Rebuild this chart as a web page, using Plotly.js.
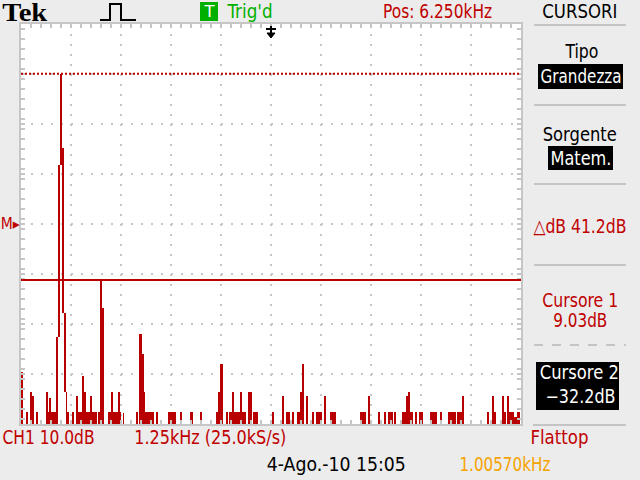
<!DOCTYPE html>
<html><head><meta charset="utf-8">
<script src="https://cdn.plot.ly/plotly-3.0.1.min.js"></script>
<style>html,body{margin:0;padding:0;background:#ececec;}#chart{width:640px;height:480px;}</style>
</head><body><div id="chart"></div>
<script>
// ---- FFT spectrum (Tek scope, Math FFT, 10 dB/div, 1.25 kHz/div) ----
// each entry: frequency span (kHz) of a drawn column, its top (dB) and its bottom (dB, null = below screen)
const binLoKHz = [0.000,0.125,0.225,0.275,0.375,0.625,0.625,0.700,0.875,0.925,0.975,1.025,1.075,1.125,1.150,1.275,1.375,1.375,1.525,1.575,1.725,1.925,1.975,2.025,2.175,2.250,2.425,2.550,2.875,2.950,3.025,3.075,3.050,3.375,3.675,3.975,4.225,4.475,4.875,4.925,4.975,5.125,5.200,5.275,5.475,5.675,5.800,6.275,6.525,6.625,6.775,6.900,6.975,7.025,7.125,7.275,7.375,7.575,7.725,8.475,8.675,8.925,9.075,9.175,9.325,9.525,9.625,9.675,9.725,9.850,9.950,10.225,10.475,10.675,10.900,11.025,11.650,11.775,11.825,12.025,12.075,12.150,12.200,12.325,12.400];
const binHiKHz = [0.050,0.175,0.275,0.325,0.425,0.675,0.875,0.750,0.925,0.9625,1.025,1.075,1.125,1.150,1.200,1.325,1.425,1.900,1.575,1.625,1.775,1.975,2.025,2.075,2.500,2.300,2.475,2.575,2.925,3.025,3.075,3.100,3.325,3.425,3.875,4.025,4.300,4.525,5.050,4.975,5.050,5.175,5.625,5.325,5.525,5.775,5.925,6.325,6.575,6.725,6.825,6.975,7.025,7.075,7.175,7.325,7.525,7.625,7.875,8.625,8.725,8.975,9.125,9.300,9.375,9.650,9.675,9.725,9.800,9.900,10.050,10.400,10.525,10.875,11.025,11.075,11.700,11.825,11.875,12.075,12.125,12.200,12.325,12.400,12.475];
const binTopDb = [-50.6,-58.6,-54.6,-55.4,-58.6,-54.6,-58.6,-55.8,-43.6,-9.2,9.0,-5.8,-38.8,-54.6,-58.6,-58.6,-55.4,-58.6,-51.4,-54.6,-55.4,-58.6,-32.2,-37.8,-58.6,-54.6,-54.6,-58.8,-58.6,-43.0,-47.0,-54.6,-58.6,-58.6,-58.6,-58.6,-58.6,-58.6,-58.6,-54.6,-49.0,-58.6,-58.6,-54.6,-54.6,-54.6,-58.6,-58.6,-55.4,-58.6,-58.6,-58.6,-54.6,-49.0,-55.4,-58.6,-58.6,-55.4,-58.6,-58.6,-55.4,-58.6,-58.6,-58.6,-58.6,-58.6,-55.4,-54.6,-58.6,-58.6,-58.6,-58.6,-58.6,-58.6,-58.6,-55.4,-58.6,-55.4,-58.6,-55.4,-58.6,-55.4,-58.6,-59.6,-58.6];
const binBottomDb = [null,null,null,null,null,null,null,null,null,-43.6,-9.2,-38.8,-54.6,null,null,null,null,null,null,null,null,null,null,null,null,null,null,null,null,null,null,null,null,null,null,null,null,null,null,null,null,null,null,null,null,null,null,null,null,null,null,null,null,null,null,null,null,null,null,null,null,null,null,null,null,null,null,null,null,null,null,null,null,null,null,null,null,null,null,null,null,null,null,null,null];

// cursors (dB)
const cursorDb = [9.03, -32.2];

// axis settings
const spanKHz = [0, 12.5];     // 10 div x 1.25 kHz, Pos 6.250 kHz at centre
const dbRange = [-61, 19];     // 8 div x 10 dB
const kHzPerDiv = 1.25, dbPerDiv = 10;

const RED = '#b80000', TXTRED = '#c00000', GRAT = '#c6c6c6', GREEN = '#00b000', ORANGE = '#f5a300';
const FONT = 'Liberation Sans Narrow, DejaVu Sans Condensed, DejaVu Sans, sans-serif';

// pixel -> paper helpers for the screen furniture around the graticule (plot area x 21..521, y 24..424)
const PX = x => (x - 21) / 500;
const PY = y => (424 - y) / 400;

const floorDb = dbRange[0];
const bottoms = binBottomDb.map(b => b === null ? floorDb : b);
const trace = {
  type: 'bar',
  x: binLoKHz.map((lo, i) => (lo + binHiKHz[i]) / 2),
  width: binLoKHz.map((lo, i) => binHiKHz[i] - lo),
  base: bottoms,
  y: binTopDb.map((t, i) => t - bottoms[i]),
  marker: {color: RED, line: {width: 0}},
  hoverinfo: 'skip'
};

const commonAx = {showticklabels: false, zeroline: false, fixedrange: true};
const layout = {
  width: 640, height: 480,
  margin: {l: 21, r: 119, t: 24, b: 56, pad: 0},
  paper_bgcolor: '#ececec', plot_bgcolor: '#ffffff',
  showlegend: false, bargap: 0,
  font: {family: FONT, size: 20, color: '#000'},
  xaxis: Object.assign({}, commonAx, {
    range: spanKHz, tick0: 0, dtick: kHzPerDiv,
    showgrid: true, gridcolor: GRAT, gridwidth: 2, griddash: '2px,8px',
    showline: true, linecolor: GRAT, linewidth: 2, mirror: 'allticks',
    ticks: 'inside', ticklen: 4, tickwidth: 2, tickcolor: GRAT,
    minor: {dtick: kHzPerDiv / 5, ticks: 'inside', ticklen: 4, tickwidth: 2, tickcolor: GRAT, showgrid: false}
  }),
  yaxis: Object.assign({}, commonAx, {
    range: dbRange, tick0: dbRange[0], dtick: dbPerDiv,
    showgrid: true, gridcolor: GRAT, gridwidth: 2, griddash: '2px,8px',
    showline: true, linecolor: GRAT, linewidth: 2, mirror: 'allticks',
    ticks: 'inside', ticklen: 4, tickwidth: 2, tickcolor: GRAT,
    minor: {dtick: dbPerDiv / 5, ticks: 'inside', ticklen: 4, tickwidth: 2, tickcolor: GRAT, showgrid: false}
  }),
  // centre cross tick marks
  xaxis2: Object.assign({}, commonAx, {
    overlaying: 'x', anchor: 'free', position: 0.5, range: spanKHz, tick0: 0, dtick: kHzPerDiv / 5,
    showgrid: false, showline: false, ticks: 'outside', ticklen: 3, tickwidth: 2, tickcolor: GRAT,
    minor: {dtick: kHzPerDiv / 5, ticks: 'inside', ticklen: 3, tickwidth: 2, tickcolor: GRAT, showgrid: false}
  }),
  yaxis2: Object.assign({}, commonAx, {
    overlaying: 'y', anchor: 'free', position: 0.5, range: dbRange, tick0: dbRange[0], dtick: dbPerDiv / 5,
    showgrid: false, showline: false, ticks: 'outside', ticklen: 3, tickwidth: 2, tickcolor: GRAT,
    minor: {dtick: dbPerDiv / 5, ticks: 'inside', ticklen: 3, tickwidth: 2, tickcolor: GRAT, showgrid: false}
  }),
  shapes: [],
  annotations: []
};

// cursor lines
layout.shapes.push({type: 'line', xref: 'paper', yref: 'y', x0: 0, x1: 1, y0: cursorDb[0], y1: cursorDb[0],
  line: {color: RED, width: 2, dash: '2px,2px'}, layer: 'above'});
layout.shapes.push({type: 'line', xref: 'paper', yref: 'y', x0: 0, x1: 1, y0: cursorDb[1], y1: cursorDb[1],
  line: {color: RED, width: 2}, layer: 'above'});

// screen furniture
function rect(x0, y0, x1, y1, fill) {
  layout.shapes.push({type: 'rect', xref: 'paper', yref: 'paper', x0: PX(x0), x1: PX(x1), y0: PY(y0), y1: PY(y1),
    fillcolor: fill, line: {width: 0}, layer: 'above'});
}
function hline(x0, x1, y, dash) {
  layout.shapes.push({type: 'line', xref: 'paper', yref: 'paper', x0: PX(x0), x1: PX(x1), y0: PY(y), y1: PY(y),
    line: {color: '#c4c4c4', width: 2, dash: dash || 'solid'}});
}
function path(pts, color, width, fill) {
  const d = pts.map((p, i) => (i ? 'L' : 'M') + PX(p[0]) + ',' + PY(p[1])).join(' ') + (fill ? ' Z' : '');
  layout.shapes.push({type: 'path', xref: 'paper', yref: 'paper', path: d,
    line: {color: color, width: width}, fillcolor: fill || 'rgba(0,0,0,0)', layer: 'above'});
}
// text spanning pixel columns left..right (the scope font is narrow: glyphs are fitted to that span)
const fitWidths = [];
function txt(text, left, right, y, opts) {
  opts = opts || {};
  layout.annotations.push({text: text, xref: 'paper', yref: 'paper', x: PX((left + right) / 2), y: PY(y),
    xanchor: 'center', yanchor: 'middle', align: 'center', showarrow: false,
    font: {family: opts.family || FONT, size: opts.size || 20, color: opts.color || '#000'}});
  fitWidths.push(right - left);
}

// top bar
txt('<b>Tek</b>', 2, 47, 13, {family: 'Liberation Serif, Times New Roman, serif', size: 25});
path([[100,20],[110,20],[110,4],[121,4],[121,20],[136,20]], '#000', 2);
rect(200, 2, 218, 21, GREEN);
txt('T', 204, 214, 12, {color: '#fff', size: 16});
txt("Trig'd", 227, 272, 11, {color: GREEN});
txt('Pos: 6.250kHz', 383, 492, 11, {color: TXTRED});
txt('CURSORI', 542, 617, 11);
// trigger position marker
path([[271,26],[271,34]], '#000', 2);
path([[266,29],[276,29]], '#000', 2);
path([[267,33],[275,33],[271,38]], '#000', 1, '#000');

// right menu
hline(534, 626, 25);
txt('Tipo', 565, 598, 51);
rect(538, 64, 623, 89, '#000');
txt('Grandezza', 540, 621, 76, {color: '#fff'});
hline(534, 626, 105);
txt('Sorgente', 543, 617, 134);
rect(548, 146, 613, 170, '#000');
txt('Matem.', 550, 611, 158, {color: '#fff'});
hline(534, 626, 184);
txt('△dB 41.2dB', 533, 626, 226, {color: TXTRED, size: 19});
hline(534, 626, 265);
txt('Cursore 1', 542, 618, 300, {color: TXTRED, size: 19});
txt('9.03dB', 553, 607, 320, {color: TXTRED, size: 19});
hline(534, 626, 345, '9px,9px');
rect(536, 362, 619, 410, '#000');
txt('Cursore 2', 540, 619, 372, {color: '#fff', size: 19});
txt('\u221232.2dB', 545, 615, 396, {color: '#fff', size: 19});
hline(533, 626, 425);

// left marker and bottom status
txt('M▸', 1, 20, 224, {color: TXTRED, size: 15});
txt('CH1 10.0dB', 2, 94, 437, {color: TXTRED});
txt('1.25kHz (25.0kS/s)', 134, 286, 437, {color: TXTRED});
txt('Flattop', 530, 588, 437, {color: TXTRED});
txt('4-Ago.-10 15:05', 267, 406, 464);
txt('1.00570kHz', 459, 550, 464, {color: ORANGE});

Plotly.newPlot('chart', [trace], layout, {staticPlot: true, displayModeBar: false}).then(gd => {
  gd.querySelectorAll('g.annotation').forEach(g => {
    const i = +g.getAttribute('data-index');
    const t = g.querySelector('text.annotation-text');
    if (t && fitWidths[i]) {
      t.setAttribute('textLength', fitWidths[i]);
      t.setAttribute('lengthAdjust', 'spacingAndGlyphs');
    }
  });
});
</script></body></html>
